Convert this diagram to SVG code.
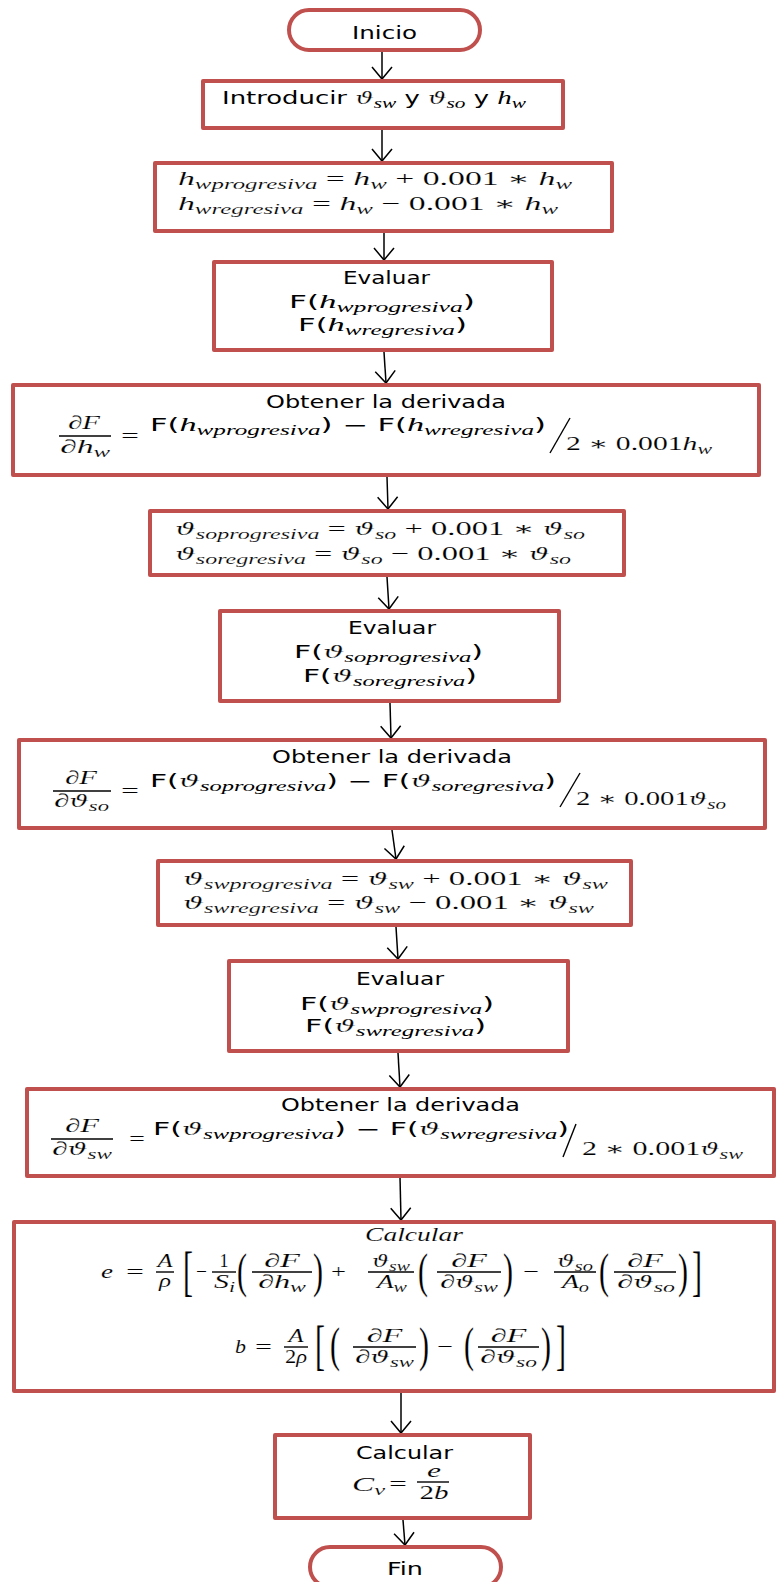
<svg xmlns="http://www.w3.org/2000/svg" width="776" height="1582" viewBox="0 0 776 1582">
<defs>
<style>
.box{fill:#fff;stroke:#C0504D;stroke-width:4;stroke-linejoin:round}
.t{font-family:"DejaVu Sans","Liberation Sans",sans-serif;font-size:17px;fill:#000}
.m{font-family:"Liberation Serif","DejaVu Serif",serif;font-style:italic;font-size:19px;fill:#000;stroke:#fff;stroke-width:0.12}
.mi{font-family:"Liberation Serif","DejaVu Serif",serif;font-style:italic;font-size:19px}
.th{font-family:"DejaVu Serif","Liberation Serif",serif;font-style:italic;font-size:17px;stroke:#fff;stroke-width:0.22}
.r{font-style:normal}
.sb{font-size:14px}
.big{font-size:30px}
.bar{stroke:#000;stroke-width:1.4}
.conn{stroke:#000;stroke-width:1.5;fill:none}
</style>
<marker id="ah" markerUnits="userSpaceOnUse" viewBox="-14 -12 16 24" refX="0" refY="0" markerWidth="16" markerHeight="24" orient="auto" overflow="visible">
<path d="M-12,-10 L0,0 L-12,10" fill="none" stroke="#000" stroke-width="1.5"/>
</marker>
</defs>
<rect width="776" height="1582" fill="#fff"/>

<g id="connectors">
<line class="conn" x1="382" y1="52" x2="382" y2="79" marker-end="url(#ah)"/>
<line class="conn" x1="382" y1="130" x2="382" y2="161" marker-end="url(#ah)"/>
<line class="conn" x1="384" y1="233" x2="384" y2="260" marker-end="url(#ah)"/>
<line class="conn" x1="384" y1="352" x2="386" y2="383" marker-end="url(#ah)"/>
<line class="conn" x1="387" y1="477" x2="388" y2="509" marker-end="url(#ah)"/>
<line class="conn" x1="387" y1="577" x2="389" y2="609" marker-end="url(#ah)"/>
<line class="conn" x1="390" y1="703" x2="391" y2="738" marker-end="url(#ah)"/>
<line class="conn" x1="392" y1="830" x2="396" y2="859" marker-end="url(#ah)"/>
<line class="conn" x1="396" y1="927" x2="398" y2="959" marker-end="url(#ah)"/>
<line class="conn" x1="398" y1="1053" x2="400" y2="1087" marker-end="url(#ah)"/>
<line class="conn" x1="400" y1="1177" x2="401" y2="1220" marker-end="url(#ah)"/>
<line class="conn" x1="401" y1="1393" x2="401" y2="1433" marker-end="url(#ah)"/>
<line class="conn" x1="403" y1="1520" x2="405" y2="1545" marker-end="url(#ah)"/>
</g>

<g id="inicio">
<rect class="box" x="289" y="10" width="191" height="40" rx="20"/>
<text class="t" x="352" y="39" textLength="65" lengthAdjust="spacingAndGlyphs">Inicio</text>
</g>

<g id="introducir">
<rect class="box" x="203" y="81" width="360" height="47"/>
<text class="t" x="222" y="104" textLength="304" lengthAdjust="spacingAndGlyphs">Introducir <tspan class="th">ϑ</tspan><tspan class="mi sb" dy="4">sw</tspan><tspan dy="-4"> y </tspan><tspan class="th">ϑ</tspan><tspan class="mi sb" dy="4">so</tspan><tspan dy="-4"> y </tspan><tspan class="mi">h</tspan><tspan class="mi sb" dy="4">w</tspan></text>
</g>

<g id="hw-incrementos">
<rect class="box" x="155" y="163" width="457" height="68"/>
<text class="m" x="178" y="185" textLength="394" lengthAdjust="spacingAndGlyphs">h<tspan class="sb" dy="4">wprogresiva</tspan><tspan class="r" dy="-4"> = </tspan>h<tspan class="sb" dy="4">w</tspan><tspan class="r" dy="-4"> + 0.001 ∗ </tspan>h<tspan class="sb" dy="4">w</tspan></text>
<text class="m" x="178" y="210" textLength="380" lengthAdjust="spacingAndGlyphs">h<tspan class="sb" dy="4">wregresiva</tspan><tspan class="r" dy="-4"> = </tspan>h<tspan class="sb" dy="4">w</tspan><tspan class="r" dy="-4"> − 0.001 ∗ </tspan>h<tspan class="sb" dy="4">w</tspan></text>
</g>

<g id="evaluar-hw">
<rect class="box" x="214" y="262" width="338" height="88"/>
<text class="t" x="343" y="284" textLength="87" lengthAdjust="spacingAndGlyphs">Evaluar</text>
<text class="t" x="289" y="308" textLength="186" lengthAdjust="spacingAndGlyphs">F(<tspan class="mi">h</tspan><tspan class="mi sb" dy="4">wprogresiva</tspan><tspan dy="-4">)</tspan></text>
<text class="t" x="298" y="331" textLength="169" lengthAdjust="spacingAndGlyphs">F(<tspan class="mi">h</tspan><tspan class="mi sb" dy="4">wregresiva</tspan><tspan dy="-4">)</tspan></text>
</g>

<g id="derivada-hw">
<rect class="box" x="13" y="385" width="746" height="90"/>
<text class="t" x="266" y="408" textLength="240" lengthAdjust="spacingAndGlyphs">Obtener la derivada</text>
<text class="m" x="84" y="429" text-anchor="middle" textLength="32" lengthAdjust="spacingAndGlyphs">∂F</text>
<line class="bar" x1="59" y1="436" x2="111" y2="436"/>
<text class="m" x="60" y="453" textLength="50" lengthAdjust="spacingAndGlyphs">∂h<tspan class="sb" dy="4">w</tspan></text>
<text class="m r" x="121" y="442" textLength="18" lengthAdjust="spacingAndGlyphs">=</text>
<text class="t" x="150" y="431" textLength="396" lengthAdjust="spacingAndGlyphs">F(<tspan class="mi">h</tspan><tspan class="mi sb" dy="4">wprogresiva</tspan><tspan dy="-4">) − F(</tspan><tspan class="mi">h</tspan><tspan class="mi sb" dy="4">wregresiva</tspan><tspan dy="-4">)</tspan></text>
<line class="bar" x1="550" y1="453" x2="570" y2="418"/>
<text class="m" x="566" y="450" textLength="146" lengthAdjust="spacingAndGlyphs"><tspan class="r">2 ∗ 0.001</tspan>h<tspan class="sb" dy="4">w</tspan></text>
</g>

<g id="so-incrementos">
<rect class="box" x="150" y="511" width="474" height="64"/>
<text class="m" x="175" y="535" textLength="410" lengthAdjust="spacingAndGlyphs"><tspan class="th">ϑ</tspan><tspan class="sb" dy="4">soprogresiva</tspan><tspan class="r" dy="-4"> = </tspan><tspan class="th">ϑ</tspan><tspan class="sb" dy="4">so</tspan><tspan class="r" dy="-4"> + 0.001 ∗ </tspan><tspan class="th">ϑ</tspan><tspan class="sb" dy="4">so</tspan></text>
<text class="m" x="175" y="560" textLength="396" lengthAdjust="spacingAndGlyphs"><tspan class="th">ϑ</tspan><tspan class="sb" dy="4">soregresiva</tspan><tspan class="r" dy="-4"> = </tspan><tspan class="th">ϑ</tspan><tspan class="sb" dy="4">so</tspan><tspan class="r" dy="-4"> − 0.001 ∗ </tspan><tspan class="th">ϑ</tspan><tspan class="sb" dy="4">so</tspan></text>
</g>

<g id="evaluar-so">
<rect class="box" x="220" y="611" width="339" height="90"/>
<text class="t" x="348" y="634" textLength="88" lengthAdjust="spacingAndGlyphs">Evaluar</text>
<text class="t" x="294" y="658" textLength="189" lengthAdjust="spacingAndGlyphs">F(<tspan class="th">ϑ</tspan><tspan class="mi sb" dy="4">soprogresiva</tspan><tspan dy="-4">)</tspan></text>
<text class="t" x="303" y="682" textLength="174" lengthAdjust="spacingAndGlyphs">F(<tspan class="th">ϑ</tspan><tspan class="mi sb" dy="4">soregresiva</tspan><tspan dy="-4">)</tspan></text>
</g>

<g id="derivada-so">
<rect class="box" x="19" y="740" width="746" height="88"/>
<text class="t" x="272" y="763" textLength="240" lengthAdjust="spacingAndGlyphs">Obtener la derivada</text>
<text class="m" x="81" y="784" text-anchor="middle" textLength="32" lengthAdjust="spacingAndGlyphs">∂F</text>
<line class="bar" x1="53" y1="791" x2="111" y2="791"/>
<text class="m" x="54" y="807" textLength="55" lengthAdjust="spacingAndGlyphs">∂<tspan class="th">ϑ</tspan><tspan class="sb" dy="4">so</tspan></text>
<text class="m r" x="121" y="797" textLength="18" lengthAdjust="spacingAndGlyphs">=</text>
<text class="t" x="150" y="787" textLength="406" lengthAdjust="spacingAndGlyphs">F(<tspan class="th">ϑ</tspan><tspan class="mi sb" dy="4">soprogresiva</tspan><tspan dy="-4">) − F(</tspan><tspan class="th">ϑ</tspan><tspan class="mi sb" dy="4">soregresiva</tspan><tspan dy="-4">)</tspan></text>
<line class="bar" x1="560" y1="807" x2="580" y2="773"/>
<text class="m" x="576" y="805" textLength="150" lengthAdjust="spacingAndGlyphs"><tspan class="r">2 ∗ 0.001</tspan><tspan class="th">ϑ</tspan><tspan class="sb" dy="4">so</tspan></text>
</g>

<g id="sw-incrementos">
<rect class="box" x="158" y="861" width="473" height="64"/>
<text class="m" x="183" y="885" textLength="425" lengthAdjust="spacingAndGlyphs"><tspan class="th">ϑ</tspan><tspan class="sb" dy="4">swprogresiva</tspan><tspan class="r" dy="-4"> = </tspan><tspan class="th">ϑ</tspan><tspan class="sb" dy="4">sw</tspan><tspan class="r" dy="-4"> + 0.001 ∗ </tspan><tspan class="th">ϑ</tspan><tspan class="sb" dy="4">sw</tspan></text>
<text class="m" x="183" y="909" textLength="411" lengthAdjust="spacingAndGlyphs"><tspan class="th">ϑ</tspan><tspan class="sb" dy="4">swregresiva</tspan><tspan class="r" dy="-4"> = </tspan><tspan class="th">ϑ</tspan><tspan class="sb" dy="4">sw</tspan><tspan class="r" dy="-4"> − 0.001 ∗ </tspan><tspan class="th">ϑ</tspan><tspan class="sb" dy="4">sw</tspan></text>
</g>

<g id="evaluar-sw">
<rect class="box" x="229" y="961" width="339" height="90"/>
<text class="t" x="356" y="985" textLength="88" lengthAdjust="spacingAndGlyphs">Evaluar</text>
<text class="t" x="300" y="1010" textLength="194" lengthAdjust="spacingAndGlyphs">F(<tspan class="th">ϑ</tspan><tspan class="mi sb" dy="4">swprogresiva</tspan><tspan dy="-4">)</tspan></text>
<text class="t" x="305" y="1032" textLength="181" lengthAdjust="spacingAndGlyphs">F(<tspan class="th">ϑ</tspan><tspan class="mi sb" dy="4">swregresiva</tspan><tspan dy="-4">)</tspan></text>
</g>

<g id="derivada-sw">
<rect class="box" x="27" y="1089" width="747" height="87"/>
<text class="t" x="281" y="1111" textLength="239" lengthAdjust="spacingAndGlyphs">Obtener la derivada</text>
<text class="m" x="82" y="1132" text-anchor="middle" textLength="34" lengthAdjust="spacingAndGlyphs">∂F</text>
<line class="bar" x1="51" y1="1139" x2="113" y2="1139"/>
<text class="m" x="52" y="1155" textLength="60" lengthAdjust="spacingAndGlyphs">∂<tspan class="th">ϑ</tspan><tspan class="sb" dy="4">sw</tspan></text>
<text class="m r" x="129" y="1145" textLength="16" lengthAdjust="spacingAndGlyphs">=</text>
<text class="t" x="153" y="1135" textLength="416" lengthAdjust="spacingAndGlyphs">F(<tspan class="th">ϑ</tspan><tspan class="mi sb" dy="4">swprogresiva</tspan><tspan dy="-4">) − F(</tspan><tspan class="th">ϑ</tspan><tspan class="mi sb" dy="4">swregresiva</tspan><tspan dy="-4">)</tspan></text>
<line class="bar" x1="563" y1="1157" x2="576" y2="1124"/>
<text class="m" x="582" y="1155" textLength="161" lengthAdjust="spacingAndGlyphs"><tspan class="r">2 ∗ 0.001</tspan><tspan class="th">ϑ</tspan><tspan class="sb" dy="4">sw</tspan></text>
</g>

<g id="calcular-e-b">
<rect class="box" x="14" y="1222" width="760" height="169"/>
<text class="m" x="365" y="1241" textLength="98" lengthAdjust="spacingAndGlyphs">Calcular</text>
<text class="m" x="101" y="1278" textLength="12" lengthAdjust="spacingAndGlyphs">e</text>
<text class="m r" x="126" y="1278" textLength="18" lengthAdjust="spacingAndGlyphs">=</text>
<text class="m" x="165" y="1267" text-anchor="middle" textLength="15" lengthAdjust="spacingAndGlyphs">A</text>
<line class="bar" x1="156" y1="1272" x2="174" y2="1272"/>
<text class="m" x="165" y="1287" text-anchor="middle" textLength="12" lengthAdjust="spacingAndGlyphs">ρ</text>
<text class="m r big" transform="translate(183,1290) scale(1,1.8)">[</text>
<text class="m r" x="196" y="1278" textLength="11" lengthAdjust="spacingAndGlyphs">−</text>
<text class="m r" x="224" y="1267" text-anchor="middle" textLength="9" lengthAdjust="spacingAndGlyphs">1</text>
<line class="bar" x1="212" y1="1272" x2="236" y2="1272"/>
<text class="m" x="214" y="1288" textLength="21" lengthAdjust="spacingAndGlyphs">S<tspan class="sb" dy="4">i</tspan></text>
<text class="m r big" transform="translate(237,1287) scale(1,1.65)">(</text>
<text class="m" x="282" y="1267" text-anchor="middle" textLength="36" lengthAdjust="spacingAndGlyphs">∂F</text>
<line class="bar" x1="252" y1="1272" x2="312" y2="1272"/>
<text class="m" x="258" y="1288" textLength="48" lengthAdjust="spacingAndGlyphs">∂h<tspan class="sb" dy="4">w</tspan></text>
<text class="m r big" transform="translate(313,1287) scale(1,1.65)">)</text>
<text class="m r" x="331" y="1278" textLength="15" lengthAdjust="spacingAndGlyphs">+</text>
<text class="m" x="372" y="1267" textLength="38" lengthAdjust="spacingAndGlyphs"><tspan class="th">ϑ</tspan><tspan class="sb" dy="4">sw</tspan></text>
<line class="bar" x1="368" y1="1272" x2="414" y2="1272"/>
<text class="m" x="377" y="1288" textLength="30" lengthAdjust="spacingAndGlyphs">A<tspan class="sb" dy="4">w</tspan></text>
<text class="m r big" transform="translate(418,1287) scale(1,1.65)">(</text>
<text class="m" x="469" y="1267" text-anchor="middle" textLength="36" lengthAdjust="spacingAndGlyphs">∂F</text>
<line class="bar" x1="437" y1="1272" x2="501" y2="1272"/>
<text class="m" x="440" y="1288" textLength="58" lengthAdjust="spacingAndGlyphs">∂<tspan class="th">ϑ</tspan><tspan class="sb" dy="4">sw</tspan></text>
<text class="m r big" transform="translate(503,1287) scale(1,1.65)">)</text>
<text class="m r" x="523" y="1278" textLength="16" lengthAdjust="spacingAndGlyphs">−</text>
<text class="m" x="557" y="1267" textLength="36" lengthAdjust="spacingAndGlyphs"><tspan class="th">ϑ</tspan><tspan class="sb" dy="4">so</tspan></text>
<line class="bar" x1="554" y1="1272" x2="596" y2="1272"/>
<text class="m" x="562" y="1288" textLength="27" lengthAdjust="spacingAndGlyphs">A<tspan class="sb" dy="4">o</tspan></text>
<text class="m r big" transform="translate(599,1287) scale(1,1.65)">(</text>
<text class="m" x="645" y="1267" text-anchor="middle" textLength="36" lengthAdjust="spacingAndGlyphs">∂F</text>
<line class="bar" x1="614" y1="1272" x2="676" y2="1272"/>
<text class="m" x="617" y="1288" textLength="58" lengthAdjust="spacingAndGlyphs">∂<tspan class="th">ϑ</tspan><tspan class="sb" dy="4">so</tspan></text>
<text class="m r big" transform="translate(678,1287) scale(1,1.65)">)</text>
<text class="m r big" transform="translate(692,1290) scale(1,1.8)">]</text>
<text class="m" x="235" y="1353" textLength="11" lengthAdjust="spacingAndGlyphs">b</text>
<text class="m r" x="255" y="1353" textLength="17" lengthAdjust="spacingAndGlyphs">=</text>
<text class="m" x="296" y="1342" text-anchor="middle" textLength="15" lengthAdjust="spacingAndGlyphs">A</text>
<line class="bar" x1="284" y1="1347" x2="308" y2="1347"/>
<text class="m" x="296" y="1363" text-anchor="middle" textLength="22" lengthAdjust="spacingAndGlyphs"><tspan class="r">2</tspan>ρ</text>
<text class="m r big" transform="translate(315,1364) scale(1,1.8)">[</text>
<text class="m r big" transform="translate(330,1361) scale(1,1.65)">(</text>
<text class="m" x="384.5" y="1342" text-anchor="middle" textLength="36" lengthAdjust="spacingAndGlyphs">∂F</text>
<line class="bar" x1="353" y1="1347" x2="416" y2="1347"/>
<text class="m" x="355" y="1363" textLength="59" lengthAdjust="spacingAndGlyphs">∂<tspan class="th">ϑ</tspan><tspan class="sb" dy="4">sw</tspan></text>
<text class="m r big" transform="translate(419,1361) scale(1,1.65)">)</text>
<text class="m r" x="437" y="1353" textLength="16" lengthAdjust="spacingAndGlyphs">−</text>
<text class="m r big" transform="translate(464,1361) scale(1,1.65)">(</text>
<text class="m" x="508.5" y="1342" text-anchor="middle" textLength="36" lengthAdjust="spacingAndGlyphs">∂F</text>
<line class="bar" x1="478" y1="1347" x2="539" y2="1347"/>
<text class="m" x="480" y="1363" textLength="57" lengthAdjust="spacingAndGlyphs">∂<tspan class="th">ϑ</tspan><tspan class="sb" dy="4">so</tspan></text>
<text class="m r big" transform="translate(541,1361) scale(1,1.65)">)</text>
<text class="m r big" transform="translate(556,1364) scale(1,1.8)">]</text>
</g>

<g id="calcular-cv">
<rect class="box" x="275" y="1435" width="255" height="83"/>
<text class="t" x="356" y="1459" textLength="97" lengthAdjust="spacingAndGlyphs">Calcular</text>
<text class="m" x="352" y="1491" textLength="33" lengthAdjust="spacingAndGlyphs">C<tspan class="sb" dy="4">v</tspan></text>
<text class="m r" x="389" y="1490" textLength="18" lengthAdjust="spacingAndGlyphs">=</text>
<text class="m" x="434" y="1477" text-anchor="middle" textLength="14" lengthAdjust="spacingAndGlyphs">e</text>
<line class="bar" x1="417" y1="1482" x2="449" y2="1482"/>
<text class="m" x="434" y="1499" text-anchor="middle" textLength="29" lengthAdjust="spacingAndGlyphs"><tspan class="r">2</tspan>b</text>
</g>

<g id="fin">
<rect class="box" x="310" y="1547" width="191" height="40" rx="20"/>
<text class="t" x="387" y="1575" textLength="36" lengthAdjust="spacingAndGlyphs">Fin</text>
</g>
</svg>
